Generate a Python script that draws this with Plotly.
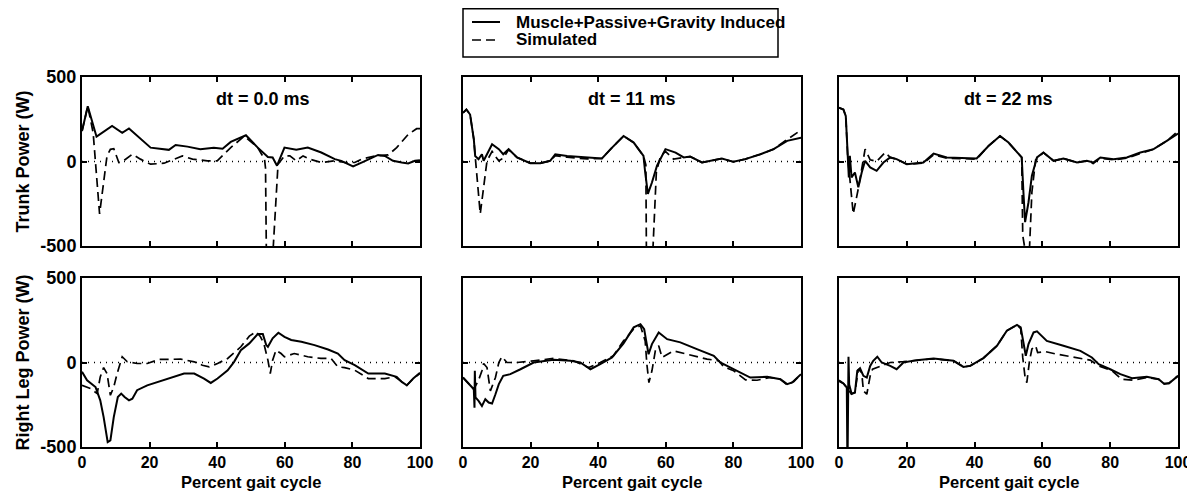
import plotly.graph_objects as go

# ---------------- data (percent gait cycle, power in W) ----------------
# Top row: Trunk power; bottom row: Right leg power
# "mpg" = Muscle+Passive+Gravity Induced (solid), "sim" = Simulated (dashed)

trunk_dt0_mpg_x = [0, 1.7, 4.3, 8.9, 11.9, 13.9, 20.3, 25.7, 27.7, 31.2, 35, 39, 41.6, 44, 48.5, 52, 55, 56.4, 57.7, 59.9, 63.4, 66.8, 70.8, 74.8, 76.7, 80.2, 83.2, 85.6, 87.6, 89.6, 92, 94.6, 96.5, 98.5, 100]
trunk_dt0_mpg_y = [180, 327, 147, 210, 170, 196, 82, 69, 98, 88, 72, 82, 76, 116, 155, 82, 27, 24, -25, 82, 69, 82, 53, 14, 4, -29, -2, 18, 39, 33, 4, -6, -12, 4, 8]
trunk_dt0_sim_x = [0, 1.7, 3.3, 3.6, 5.2, 7.4, 8.4, 9.4, 10.9, 11.9, 14.9, 17.3, 20.3, 24.3, 26.2, 29.7, 32.7, 37.1, 40, 44, 48, 52, 54, 54.3, 54.6, 56.3, 56.6, 58, 59.9, 61.5, 63.4, 65.4, 67.3, 70.8, 74.8, 77.7, 80.7, 82.7, 86.6, 90.6, 93.1, 96.5, 99, 100]
trunk_dt0_sim_y = [180, 327, 170, 100, -310, 33, 72, 76, -6, -2, 43, 14, -16, -10, 4, 33, 14, 4, 4, 82, 150, 82, 14, -40, -650, -650, -500, -16, 33, 33, 4, 33, 14, -6, 4, -6, -6, 14, 33, 39, 82, 160, 194, 194]

trunk_dt11_mpg_x = [0, 1, 2.1, 3.2, 3.6, 4.6, 5.6, 6.1, 7.1, 8.6, 10.6, 11.9, 13.5, 16, 19.9, 22.9, 25.8, 27.3, 30.8, 36.7, 41.1, 44.1, 47.5, 50.5, 53.4, 53.9, 54.7, 55.9, 57.4, 59.9, 62.9, 65.3, 67.2, 70.7, 74.2, 76.6, 80, 83.5, 88, 91.9, 95.9, 100]
trunk_dt11_mpg_y = [288, 308, 278, 131, 33, 14, 43, 4, 43, 102, 73, 43, 73, 24, -10, -10, 4, 43, 33, 24, 18, 82, 151, 112, 33, -65, -192, -124, -25, 73, 53, 24, 29, -6, 10, 18, -2, 14, 43, 73, 122, 141]
trunk_dt11_sim_x = [0, 1, 2.1, 3.2, 3.6, 5.1, 7.1, 8.6, 9.6, 10.6, 11.9, 13.5, 16, 19.9, 22.9, 25.8, 27.3, 30.8, 36.7, 41.1, 44.1, 47.5, 50.5, 53.4, 54.1, 54.3, 55.9, 57.2, 58.4, 59.9, 62.3, 65.3, 67.2, 70.7, 74.2, 76.6, 80, 83.5, 88, 91.9, 95.9, 100]
trunk_dt11_sim_y = [288, 308, 278, 131, 33, -310, 4, 60, 30, 4, 20, 70, 24, -10, -10, 4, 35, 25, 15, 18, 82, 151, 112, 33, -20, -650, -650, -65, 30, 60, 14, 24, 29, -6, 10, 18, -2, 14, 43, 73, 130, 186]

trunk_dt22_mpg_x = [0, 1.3, 2.0, 2.6, 2.9, 3.2, 3.7, 4.7, 5.7, 6.7, 7.7, 9.2, 11.1, 13.1, 15.1, 17, 20, 24.9, 27.9, 31.8, 40.6, 44.1, 47.5, 50, 53.9, 54.4, 54.9, 55.9, 56.9, 58.4, 60.3, 63.3, 66.2, 70.2, 73.1, 75, 77.1, 81, 84.9, 88.9, 92.8, 96.7, 100]
trunk_dt22_mpg_y = [318, 308, 269, 14, -94, 34, -94, -65, -153, -65, 4, -35, -55, -6, 24, 14, -16, -6, 47, 24, 18, 92, 151, 112, 24, -182, -359, -241, -84, 24, 53, 4, 18, -6, 4, -6, 24, 14, 24, 53, 73, 122, 165]
trunk_dt22_sim_x = [0, 1.3, 2.0, 2.6, 3.0, 4.2, 5.7, 7.7, 9.2, 11.1, 13.6, 15.1, 17, 20, 24.9, 27.9, 31.8, 40.6, 44.1, 47.5, 50, 53.9, 54.2, 55.9, 56.9, 58.0, 60.3, 63.3, 66.2, 70.2, 73.1, 75, 77.1, 81, 84.9, 88.9, 92.8, 96.7, 100]
trunk_dt22_sim_y = [318, 308, 269, 14, -60, -310, -160, 73, 10, 0, 53, 24, 14, -16, -10, 40, 20, 14, 92, 151, 112, 24, -437, -650, -182, 10, 53, 4, 18, -6, 4, -12, 20, 10, 20, 48, 73, 122, 180]

leg_dt0_mpg_x = [0, 1.5, 4, 5.4, 6.4, 7.6, 8.4, 9.4, 10.6, 11.6, 12.6, 13.9, 14.9, 16.3, 19.3, 25.2, 30.2, 33.2, 36.1, 38.1, 40.1, 43.1, 45, 47, 49.5, 52, 53.5, 54.5, 55, 56.4, 58.1, 59.9, 61.9, 64.9, 68.8, 72.8, 75.7, 77.7, 80.7, 84.7, 89.6, 93.1, 94.6, 96.1, 98, 100]
leg_dt0_mpg_y = [-55, -105, -145, -224, -323, -471, -461, -323, -204, -184, -204, -224, -214, -164, -135, -95, -65, -65, -95, -121, -95, -46, 4, 73, 113, 168, 168, 103, 93, 143, 176, 152, 133, 123, 103, 77, 53, 14, -16, -65, -65, -85, -115, -135, -95, -61]
leg_dt0_sim_x = [0, 2.5, 4.5, 5.4, 6.4, 7.4, 8.4, 9.4, 10.4, 11.9, 13.4, 16.3, 19.3, 22.8, 29.2, 33.2, 35.6, 37.6, 40.1, 43.1, 47, 49.5, 51.5, 52.8, 53.8, 55, 55.7, 56.4, 57.4, 58.9, 59.9, 62.8, 66.8, 70.7, 73.7, 75.7, 77.7, 80.7, 84.7, 89.6, 92.6, 94.6, 96.1, 98, 100]
leg_dt0_sim_y = [-135, -154, -184, -85, -30, -65, -194, -145, -65, 34, 4, -6, -6, 18, 20, 4, -16, -26, -6, 24, 93, 156, 182, 152, 113, 14, -65, 14, 73, 53, 34, 53, 34, 24, 24, -26, -30, -46, -95, -95, -85, -115, -135, -95, -65]

leg_dt11_mpg_x = [0, 1.7, 3.2, 3.4, 3.5, 3.7, 4.6, 5.6, 6.6, 7.6, 8.6, 9.6, 10.6, 11.9, 14, 17, 20.9, 26.8, 31.8, 34.7, 37.7, 40.6, 44.1, 47.5, 50.5, 52.5, 53.6, 54.2, 54.9, 55.9, 57.9, 60.4, 64.3, 69.2, 74.2, 76.1, 79.1, 82, 85, 90, 93.9, 95.9, 97.4, 100]
leg_dt11_mpg_y = [-89, -128, -158, -267, -49, -207, -227, -257, -217, -237, -243, -188, -128, -79, -69, -40, 0, 16, 10, 0, -40, -10, 30, 113, 208, 227, 198, 128, 49, 109, 178, 138, 119, 79, 40, 0, -30, -59, -89, -85, -99, -128, -118, -69]
leg_dt11_sim_x = [0, 1.7, 3.2, 4.6, 5.6, 6.1, 7.1, 8.1, 9.6, 10.6, 11.5, 13, 16, 20.9, 26.8, 32.7, 37.2, 40.6, 44.5, 47.5, 50.5, 52.5, 53.9, 54.4, 55, 55.9, 56.9, 57.9, 58.9, 62.3, 66.3, 72.2, 75.7, 77.1, 80.1, 83.6, 87, 90.9, 93.9, 95.9, 97.9, 100]
leg_dt11_sim_y = [-89, -128, -158, -105, -49, -6, -30, -168, -89, 0, 34, 0, 0, 10, 24, 10, -30, 0, 40, 128, 198, 217, 128, -10, -119, -49, 69, 99, 30, 69, 49, 20, 10, -26, -49, -103, -105, -89, -99, -132, -112, -69]

leg_dt22_mpg_x = [0, 1.3, 2.3, 2.5, 2.8, 3.0, 3.7, 4.7, 5.4, 6.2, 7.2, 8.2, 9.2, 10.1, 11.3, 12.6, 15.1, 17, 19, 22.9, 27.9, 33.8, 36.7, 38.7, 42.6, 46.6, 49.5, 52.5, 53.6, 54.4, 55.1, 55.9, 57.4, 58.4, 61.3, 66.2, 71.2, 74.6, 76.6, 80, 83, 86.4, 90.8, 94.3, 95.8, 97.3, 100]
leg_dt22_mpg_y = [-105, -124, -148, -650, 34, -130, -184, -178, -49, -34, -79, -89, -20, 10, 34, 0, -20, -40, 0, 14, 24, 10, -26, -20, 26, 99, 188, 223, 208, 109, 40, 109, 178, 184, 128, 99, 69, 30, -10, -40, -69, -93, -85, -99, -124, -124, -79]
leg_dt22_sim_x = [0, 1.3, 2.3, 3.7, 4.7, 5.7, 6.7, 7.2, 8.2, 9.2, 9.9, 15.1, 19, 22.9, 27.9, 33.8, 36.7, 38.7, 42.6, 46.6, 49.5, 52.5, 53.6, 54.2, 54.9, 55.4, 56.2, 56.9, 58.0, 58.6, 60.8, 64.3, 70.2, 74.1, 76.6, 80.5, 83.4, 86.9, 90.8, 94.3, 96, 97.5, 100]
leg_dt22_sim_y = [-112, -124, -148, -188, -178, -40, -60, -168, -188, -79, -40, 0, 5, 14, 22, 10, -26, -20, 26, 99, 188, 223, 200, 30, -89, -119, 10, 80, 99, 59, 65, 49, 30, 14, -20, -49, -99, -105, -89, -99, -128, -120, -79]

panel_titles = ["dt = 0.0 ms", "dt = 11 ms", "dt = 22 ms"]
row_titles = ["Trunk Power (W)", "Right Leg Power (W)"]
x_title = "Percent gait cycle"
series_names = ["Muscle+Passive+Gravity Induced", "Simulated"]
x_ticks = [0, 20, 40, 60, 80, 100]
y_ticks = [-500, 0, 500]
y_ticktext = ["-500", "0", "500"]

panels = [
    [(trunk_dt0_mpg_x, trunk_dt0_mpg_y, trunk_dt0_sim_x, trunk_dt0_sim_y),
     (trunk_dt11_mpg_x, trunk_dt11_mpg_y, trunk_dt11_sim_x, trunk_dt11_sim_y),
     (trunk_dt22_mpg_x, trunk_dt22_mpg_y, trunk_dt22_sim_x, trunk_dt22_sim_y)],
    [(leg_dt0_mpg_x, leg_dt0_mpg_y, leg_dt0_sim_x, leg_dt0_sim_y),
     (leg_dt11_mpg_x, leg_dt11_mpg_y, leg_dt11_sim_x, leg_dt11_sim_y),
     (leg_dt22_mpg_x, leg_dt22_mpg_y, leg_dt22_sim_x, leg_dt22_sim_y)],
]

# ---------------- layout geometry ----------------
# The page body adds an 8px offset, so the figure is sized/positioned to compensate.
OFF = 8
W, H = 1195 - OFF, 493 - OFF
col_px = [(82 - OFF, 420 - OFF), (463 - OFF, 801 - OFF), (839 - OFF, 1178 - OFF)]
row_px = [(77 - OFF, 246 - OFF), (278 - OFF, 447 - OFF)]
FONT = "Liberation Sans, Arial, Helvetica, sans-serif"
DASH = "9px,5px"


def px_x(sx):
    return (sx - OFF) / W


def px_y(sy):
    return 1 - (sy - OFF) / H


fig = go.Figure()
layout = dict(
    width=W, height=H,
    margin=dict(l=0, r=0, t=0, b=0, autoexpand=False),
    paper_bgcolor="white", plot_bgcolor="white",
    font=dict(family=FONT, color="black", size=15, weight="bold"),
    showlegend=False,
    annotations=[], shapes=[],
)

for r in range(2):
    for c in range(3):
        idx = r * 3 + c + 1
        xa = "xaxis" if idx == 1 else f"xaxis{idx}"
        ya = "yaxis" if idx == 1 else f"yaxis{idx}"
        xr = "x" if idx == 1 else f"x{idx}"
        yr = "y" if idx == 1 else f"y{idx}"
        x0, x1 = col_px[c]
        y0, y1 = row_px[r]
        layout[xa] = dict(
            domain=[x0 / W, x1 / W], anchor=yr, range=[0, 100], automargin=False,
            tickvals=x_ticks, showticklabels=(r == 1),
            ticks="inside", ticklen=5, tickwidth=1.5, tickcolor="black",
            showline=True, linecolor="black", linewidth=2, mirror="ticks",
            showgrid=False, zeroline=False,
            tickfont=dict(family=FONT, size=16, color="black", weight="bold"),
        )
        layout[ya] = dict(
            domain=[1 - y1 / H, 1 - y0 / H], anchor=xr, range=[-500, 500], automargin=False,
            tickvals=y_ticks, ticktext=y_ticktext, showticklabels=(c == 0),
            ticks="inside", ticklen=5, tickwidth=1.5, tickcolor="black",
            showline=True, linecolor="black", linewidth=2, mirror="ticks",
            showgrid=False, zeroline=False,
            tickfont=dict(family=FONT, size=18, color="black", weight="bold"),
        )
        mx, my, sx, sy = panels[r][c]
        fig.add_trace(go.Scatter(
            x=sx, y=sy, mode="lines", xaxis=xr, yaxis=yr,
            line=dict(color="black", width=1.7, dash=DASH),
            name=series_names[1], showlegend=False))
        fig.add_trace(go.Scatter(
            x=mx, y=my, mode="lines", xaxis=xr, yaxis=yr,
            line=dict(color="black", width=2),
            name=series_names[0], showlegend=False))
        layout["shapes"].append(dict(
            type="line", xref=f"{xr} domain", yref=yr, x0=0, x1=1, y0=0, y1=0,
            line=dict(color="black", width=1.5, dash="1px,5px"), layer="below"))
        if r == 0:
            layout["annotations"].append(dict(
                text=panel_titles[c], xref=xr, yref=yr,
                x=53.5 if c == 0 else 50, y=370, showarrow=False,
                font=dict(family=FONT, size=18, color="black", weight="bold")))
        if r == 1:
            layout["annotations"].append(dict(
                text=x_title, xref=f"{xr} domain", yref="paper",
                x=0.5, y=px_y(482), xanchor="center", yanchor="middle",
                showarrow=False,
                font=dict(family=FONT, size=16.5, color="black", weight="bold")))
        if c == 0:
            layout["annotations"].append(dict(
                text=row_titles[r], xref="paper", yref=f"{yr} domain",
                x=px_x(22), y=0.5, xanchor="center", yanchor="middle",
                textangle=-90, showarrow=False,
                font=dict(family=FONT, size=18, color="black", weight="bold")))

# ---------------- legend box (drawn in page pixels) ----------------
layout["shapes"].append(dict(
    type="rect", xref="paper", yref="paper",
    x0=px_x(463), x1=px_x(778), y0=px_y(57), y1=px_y(8.8),
    line=dict(color="black", width=1.5), fillcolor="white", layer="above"))
legend_rows = [(22, None), (40, DASH)]
for (row_y, dash), name in zip(legend_rows, series_names):
    layout["shapes"].append(dict(
        type="line", xref="paper", yref="paper",
        x0=px_x(472), x1=px_x(500), y0=px_y(row_y), y1=px_y(row_y),
        line=dict(color="black", width=2 if dash is None else 1.7,
                  dash="solid" if dash is None else dash), layer="above"))
    layout["annotations"].append(dict(
        text=name, xref="paper", yref="paper", x=px_x(514), y=px_y(row_y),
        xanchor="left", yanchor="middle", showarrow=False,
        font=dict(family=FONT, size=17, color="black", weight="bold")))

fig.update_layout(**layout)
fig.write_html("out.html")
